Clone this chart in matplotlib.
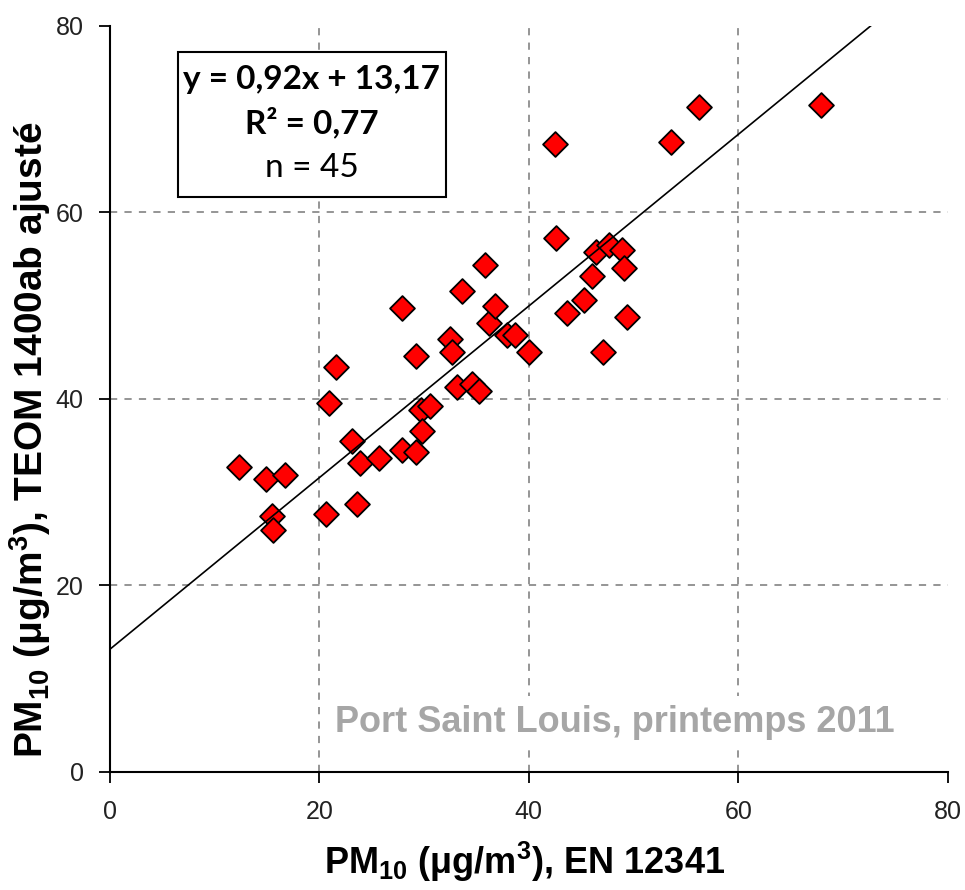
import numpy as np
import matplotlib.pyplot as plt
from matplotlib.patches import Rectangle

# reference method (EN 12341) vs adjusted TEOM 1400ab, ug/m3
en12341 = [12.3, 14.9, 16.7, 15.5, 15.6, 20.6, 20.9, 21.6, 23.1, 23.9,
           23.6, 25.7, 27.9, 27.9, 29.2, 29.2, 29.7, 29.8, 30.6, 32.5,
           32.7, 33.1, 33.6, 34.6, 35.2, 35.8, 36.2, 36.8, 37.9, 38.7,
           40.0, 42.5, 42.6, 43.6, 45.3, 46.0, 46.4, 47.1, 47.7, 48.9,
           49.1, 49.4, 53.6, 56.3, 67.9]
teom = [32.7, 31.4, 31.8, 27.4, 25.9, 27.7, 39.6, 43.4, 35.5, 33.1,
        28.7, 33.7, 34.5, 49.8, 44.6, 34.3, 38.8, 36.6, 39.3, 46.4,
        45.0, 41.3, 51.6, 41.6, 40.9, 54.4, 48.1, 50.0, 46.9, 46.9,
        45.0, 67.3, 57.3, 49.2, 50.6, 53.2, 55.8, 45.0, 56.5, 56.0,
        54.1, 48.8, 67.6, 71.3, 71.5]
slope, intercept = 0.92, 13.17
r2 = 0.77
ticks = [0, 20, 40, 60, 80]

plt.rcParams['mathtext.fontset'] = 'custom'
plt.rcParams['mathtext.rm'] = 'Liberation Sans:bold'
plt.rcParams['mathtext.bf'] = 'Liberation Sans:bold'

fig = plt.figure(figsize=(9.65, 8.9), dpi=100)
ax = fig.add_axes([0.114, 0.1326, 0.868, 0.8382])

for v in ticks[1:-1]:
    ax.axvline(v, color='#8c8c8c', linestyle=(0, (4, 4)), linewidth=1.3, zorder=1)
    ax.axhline(v, color='#8c8c8c', linestyle=(0, (4, 4)), linewidth=1.3, zorder=1)

ax.scatter(en12341, teom, marker='D', s=160, color='red',
           edgecolor='black', linewidth=1.3, zorder=3)

x_line = np.array([0, (80 - intercept) / slope])
ax.plot(x_line, slope * x_line + intercept, color='black', linewidth=1.2, zorder=4)

ax.set_xlim(0, 80)
ax.set_ylim(0, 80)
ax.set_xticks(ticks)
ax.set_yticks(ticks)
ax.tick_params(labelsize=18, length=8, width=1.3, direction='out',
               pad=11, labelfontfamily='Liberation Sans', labelcolor='#222222')
ax.tick_params(axis='x', pad=12)
for s in ['top', 'right']:
    ax.spines[s].set_visible(False)
for s in ['left', 'bottom']:
    ax.spines[s].set_linewidth(1.5)

ax.set_xlabel(r'PM$_{10}$ ($\mathregular{\mu}$g/m$^{3}$), EN 12341',
              fontsize=26, fontweight='bold', family='Liberation Sans', va='center')
ax.xaxis.set_label_coords(0.495, -0.121)
ax.set_ylabel(r'PM$_{10}$ ($\mathregular{\mu}$g/m$^{3}$), TEOM 1400ab ajusté',
              fontsize=28, fontweight='bold', family='Liberation Sans', va='center')
ax.yaxis.set_label_coords(-0.095, 0.446)

# equation box
ax.add_patch(Rectangle((0.081, 0.771), 0.32, 0.194, transform=ax.transAxes,
                       facecolor='white', edgecolor='black', linewidth=1.5, zorder=5))
box_x = 0.241
ax.text(box_x, 0.928, f'y = {slope:.2f}x + {intercept:.2f}'.replace('.', ','),
        transform=ax.transAxes, ha='center', va='center', fontsize=24,
        fontweight='bold', family='Lato', zorder=6)
ax.text(box_x, 0.870, f'R² = {r2:.2f}'.replace('.', ','),
        transform=ax.transAxes, ha='center', va='center', fontsize=24,
        fontweight='bold', family='Lato', zorder=6)
ax.text(box_x, 0.810, f'n = {len(en12341)}', transform=ax.transAxes,
        ha='center', va='center', fontsize=24, family='Lato', zorder=6)

ax.text(0.603, 0.067, 'Port Saint Louis, printemps 2011', transform=ax.transAxes,
        ha='center', va='center', fontsize=26, fontweight='bold',
        family='Liberation Sans', color='#a6a6a6',
        bbox=dict(facecolor='white', edgecolor='none', pad=6), zorder=5)

fig.savefig('out.png', dpi=100)
